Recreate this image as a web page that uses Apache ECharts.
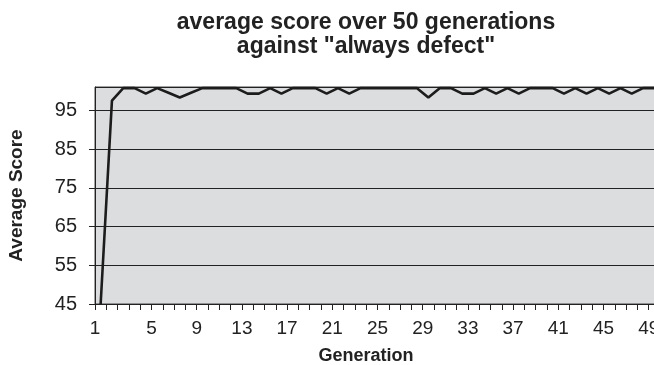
<!DOCTYPE html>
<html>
<head>
<meta charset="utf-8">
<script src="https://cdn.jsdelivr.net/npm/echarts@6/dist/echarts.min.js"></script>
<style>
html,body{margin:0;padding:0;background:#fff;}
#chart{width:654px;height:365px;}
</style>
</head>
<body>
<div id="chart"></div>
<script>
const titleLines = ['average score over 50 generations', 'against "always defect"'];
const xAxisTitle = 'Generation';
const yAxisTitle = 'Average Score';
const generations = [];
for (let g = 1; g <= 50; g++) generations.push(String(g));
const xTickLabels = ['1','5','9','13','17','21','25','29','33','37','41','45','49'];
const avgScore = [
  45, 97.5, 100.7, 100.7, 99.3, 100.7, 99.5, 98.3, 99.5, 100.7,
  100.7, 100.7, 100.7, 99.3, 99.3, 100.7, 99.3, 100.7, 100.7, 100.7,
  99.3, 100.7, 99.3, 100.7, 100.7, 100.7, 100.7, 100.7, 100.7, 98.3,
  100.7, 100.7, 99.3, 99.3, 100.7, 99.3, 100.7, 99.3, 100.7, 100.7,
  100.7, 99.3, 100.7, 99.3, 100.7, 99.3, 100.7, 99.3, 100.7, 100.7
];
const yMin = 45, yMax = 101, yStep = 10;

const chart = echarts.init(document.getElementById('chart'), null, {renderer: 'canvas'});
const font = 'Liberation Sans, Arial, sans-serif';
chart.setOption({
  animation: false,
  backgroundColor: '#ffffff',
  title: [
    {
      text: titleLines.join('\n'),
      left: 361, top: 6, textAlign: 'center',
      textStyle: {fontFamily: font, fontWeight: 'bold', fontSize: 23, color: '#222', lineHeight: 24}
    },
    {
      text: xAxisTitle,
      left: 361, top: 342, textAlign: 'center',
      textStyle: {fontFamily: font, fontWeight: 'bold', fontSize: 18, color: '#222'}
    }
  ],
  grid: {
    left: 95, top: 87, width: 565, height: 217,
    show: true, backgroundColor: '#dcdddf', borderColor: '#444', borderWidth: 1,
    containLabel: false, outerBoundsMode: 'none'
  },
  xAxis: [
    {
      type: 'category', data: generations, boundaryGap: true, show: false
    },
    {
      type: 'value', min: 0, max: generations.length, interval: 1,
      position: 'bottom',
      axisLine: {show: true, lineStyle: {color: '#222', width: 1}},
      axisTick: {show: true, inside: false, length: 6, lineStyle: {color: '#222'}},
      splitLine: {show: false},
      axisLabel: {
        show: true, margin: 15, fontFamily: font, fontSize: 19, color: '#222',
        showMinLabel: true, showMaxLabel: false,
        formatter: function (v) {
          const lbl = v === 0 ? '1' : String(v);
          return (v === 0 || (xTickLabels.indexOf(lbl) >= 0 && v > 1)) ? lbl : '';
        }
      }
    }
  ],
  yAxis: {
    type: 'value', min: yMin, max: yMax, interval: yStep,
    name: yAxisTitle, nameLocation: 'middle', nameGap: 69,
    nameTextStyle: {fontFamily: font, fontWeight: 'bold', fontSize: 19, color: '#222'},
    axisLine: {show: true, lineStyle: {color: '#222'}},
    axisTick: {show: true, inside: false, length: 6, lineStyle: {color: '#222'}},
    axisLabel: {margin: 18, fontFamily: font, fontSize: 20, color: '#222', showMaxLabel: false},
    splitLine: {show: true, lineStyle: {color: '#222', width: 1}}
  },
  series: [{
    type: 'line', xAxisIndex: 0, data: avgScore,
    showSymbol: false, symbol: 'none',
    lineStyle: {color: '#1c1c1c', width: 2.6},
    clip: true
  }]
});
</script>
</body>
</html>
